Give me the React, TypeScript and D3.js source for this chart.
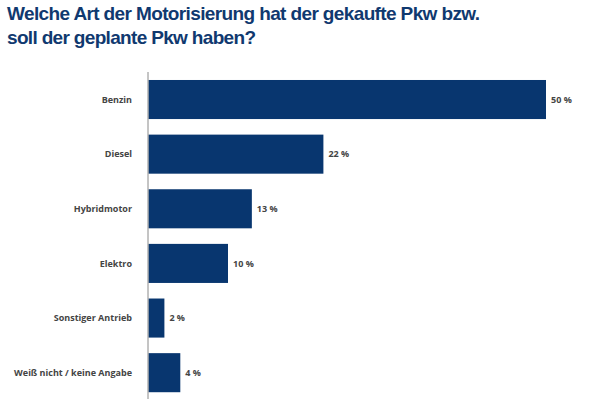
import { useRef, useEffect } from 'react';
import * as d3 from 'd3';

const categories = [
  'Benzin',
  'Diesel',
  'Hybridmotor',
  'Elektro',
  'Sonstiger Antrieb',
  'Weiß nicht / keine Angabe',
];
const values = [50, 22, 13, 10, 2, 4];
const titleLines = [
  'Welche Art der Motorisierung hat der gekaufte Pkw bzw.',
  'soll der geplante Pkw haben?',
];
const titleWidths = [473, 249];

const App = () => {
  const svgRef = useRef<SVGSVGElement>(null);

  useEffect(() => {
    const svg = d3.select(svgRef.current);
    svg.selectAll('*').remove();

    const width = 600;
    const height = 399;

    svg.append('rect').attr('width', width).attr('height', height).attr('fill', '#fff');

    // title (source text has tight letter spacing)
    svg.append('g')
      .selectAll('text')
      .data(titleLines)
      .join('text')
      .attr('x', 7)
      .attr('y', (d, i) => 19.5 + i * 24)
      .attr('textLength', (d, i) => titleWidths[i])
      .attr('lengthAdjust', 'spacing')
      .attr('font-family', '"Liberation Sans", Arial, sans-serif')
      .attr('font-weight', 'bold')
      .attr('font-size', 19)
      .attr('fill', '#10396f')
      .text(d => d);

    const x = d3.scaleLinear().domain([0, 50]).range([148.5, 546]);
    const y = d3.scaleBand<string>()
      .domain(categories)
      .range([72.2, 400])
      .paddingInner(0.285)
      .paddingOuter(0.1425);

    const rows = categories.map((c, i) => ({ c, v: values[i] }));

    svg.append('g')
      .selectAll('rect')
      .data(rows)
      .join('rect')
      .attr('x', x(0))
      .attr('y', d => y(d.c)!)
      .attr('width', d => x(d.v) - x(0))
      .attr('height', y.bandwidth())
      .attr('fill', '#08366f');

    // axis line
    svg.append('line')
      .attr('x1', 148).attr('x2', 148)
      .attr('y1', 72).attr('y2', 400)
      .attr('stroke', '#8a8a8a')
      .attr('stroke-width', 1);

    // category labels
    svg.append('g')
      .selectAll('text')
      .data(rows)
      .join('text')
      .attr('x', 132)
      .attr('y', d => y(d.c)! + y.bandwidth() / 2)
      .attr('dy', '0.35em')
      .attr('text-anchor', 'end')
      .attr('font-family', '"Open Sans", sans-serif')
      .attr('font-weight', 'bold')
      .attr('font-size', 9)
      .attr('fill', '#444')
      .text(d => d.c);

    // value labels
    svg.append('g')
      .selectAll('text')
      .data(rows)
      .join('text')
      .attr('x', d => x(d.v) + 5)
      .attr('y', d => y(d.c)! + y.bandwidth() / 2)
      .attr('dy', '0.35em')
      .attr('font-family', '"Open Sans", sans-serif')
      .attr('font-weight', 'bold')
      .attr('font-size', 9)
      .attr('fill', '#444')
      .text(d => `${d.v} %`);
  }, []);

  return (
    <svg
      ref={svgRef}
      width={600}
      height={399}
      style={{ position: 'absolute', left: 0, top: 0, display: 'block' }}
    />
  );
};

export default App;
